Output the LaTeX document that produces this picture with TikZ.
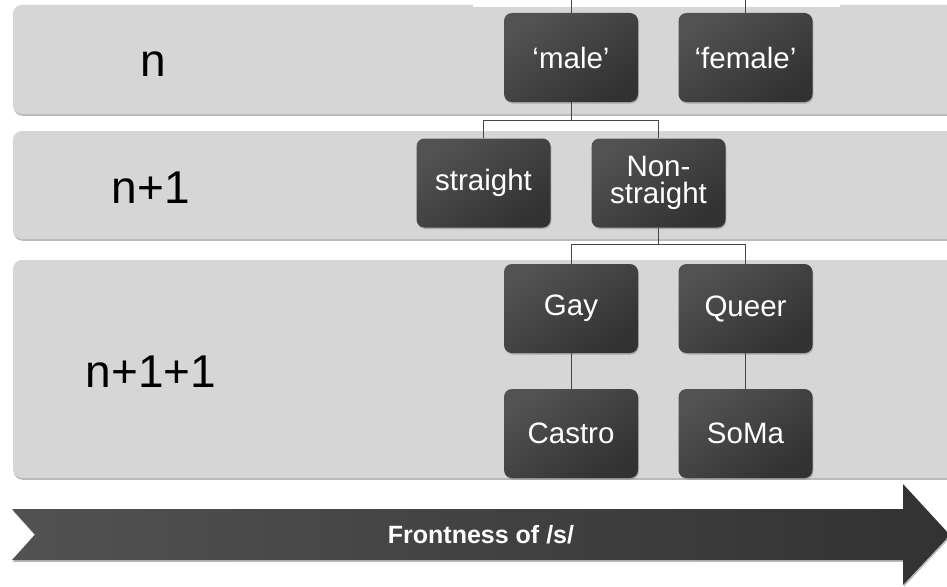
\documentclass[tikz,border=0pt]{standalone}
\usepackage{fontspec}
\setmainfont{Liberation Sans}
\usetikzlibrary{shadows}
\definecolor{bandfill}{RGB}{214,214,214}
\definecolor{boxA}{RGB}{82,82,82}
\definecolor{boxB}{RGB}{50,50,50}
\definecolor{connc}{RGB}{70,70,70}
\begin{document}
\begin{tikzpicture}[x=1pt,y=-1pt,
  bandbox/.style={fill=bandfill, rounded corners=9pt,
    drop shadow={shadow xshift=0.6pt, shadow yshift=-1.8pt, fill=black!50, opacity=0.55}},
  lvl/.style={anchor=base, text=black, font=\fontsize{46}{50}\selectfont},
  catbox/.style={draw=none, rounded corners=8pt, minimum width=134pt, minimum height=89pt,
    inner sep=2pt, shading=axis, top color=boxA, bottom color=boxB, shading angle=35,
    text=white, align=center, font=\fontsize{29.5}{31}\selectfont,
    drop shadow={shadow xshift=0.8pt, shadow yshift=-1.5pt, fill=black!60, opacity=0.4}},
  conn/.style={draw=connc, line width=0.9pt},
  arrowband/.style={shading=axis, left color=boxA, right color=boxB,
    drop shadow={shadow xshift=0.8pt, shadow yshift=-1.8pt, fill=black!60, opacity=0.45}},
  arrowtext/.style={text=white, font=\bfseries\fontsize{25}{27}\selectfont}]
\clip (0,0) rectangle (947,586);
\fill[white] (0,0) rectangle (947,586);
% bands
\path[bandbox] (13,5) rectangle (990,114);
\path[bandbox] (13,131) rectangle (990,239);
\path[bandbox] (13,260) rectangle (990,478);
\fill[white] (473,0) rectangle (840,7);
% level labels
\node[lvl] (l1) at (153,77) {n};
\node[lvl] (l2) at (151,203) {n+1};
\node[lvl] (l3) at (151,387) {n+1+1};
% upper stubs
\coordinate (topm) at (571,0);
\coordinate (topf) at (745.5,0);
% boxes
\node[catbox] (male) at (571,57.5) {‘male’};
\node[catbox] (female) at (745.5,57.5) {‘female’};
\node[catbox] (straight) at (483.5,183) {straight};
\node[catbox] (nonstraight) at (658.5,183) {Non-\\[-4pt]straight};
\node[catbox] (gay) at (571,308.5) {Gay};
\node[catbox] (queer) at (745.5,308.5) {Queer};
\node[catbox] (castro) at (571,433.5) {Castro};
\node[catbox] (soma) at (745.5,433.5) {SoMa};
% connectors
\draw[conn] (topm) -- (male.north);
\draw[conn] (topf) -- (female.north);
\draw[conn] (male.south) -- ++(0,18) -| (straight.north);
\draw[conn] (male.south) -- ++(0,18) -| (nonstraight.north);
\draw[conn] (nonstraight.south) -- ++(0,17) -| (gay.north);
\draw[conn] (nonstraight.south) -- ++(0,17) -| (queer.north);
\draw[conn] (gay.south) -- (castro.north);
\draw[conn] (queer.south) -- (soma.north);
% arrow
\path[arrowband] (12,509) -- (903,509) -- (903,484) -- (950,535) -- (903,585)
  -- (903,560) -- (12,560) -- (35,534.5) -- cycle;
\node[arrowtext] (atext) at (481,535) {Frontness of /s/};
\end{tikzpicture}
\end{document}
